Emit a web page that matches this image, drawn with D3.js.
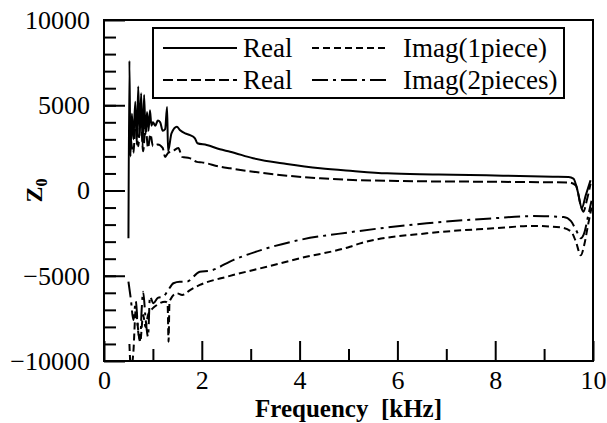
<!DOCTYPE html>
<html lang="en">
<head>
  <meta charset="UTF-8">
  <title>Z0 vs Frequency</title>
  <script src="https://d3js.org/d3.v7.min.js"></script>
  <style>
    body { margin: 0; background: #fff; }
    .axis .domain { display: none; }
    .axis line { stroke: #000; stroke-width: 2; }
    .curve { fill: none; stroke: #000; stroke-width: 2; }
  </style>
</head>
<body>
<div id="chart"></div>
<script>
// frequency [kHz] / Z0 values
const realOneF = [0.50, 0.52, 0.54, 0.57, 0.60, 0.64, 0.67, 0.70, 0.73, 0.76, 0.79, 0.82, 0.85, 0.88, 0.91, 0.94, 0.97, 1.00, 1.05, 1.10, 1.15, 1.20, 1.25, 1.29, 1.31, 1.38, 1.49, 1.55, 1.66, 1.76, 1.86, 1.91, 2.10, 2.37, 2.58, 3.05, 3.74, 4.42, 5.09, 5.79, 6.46, 7.14, 8.16, 9.18, 9.50, 9.60, 9.70, 9.77, 9.85, 9.95];
const realOneV = [-2800, 7600, 2000, 4500, 3000, 5200, 2700, 6100, 3200, 5700, 2600, 5600, 3300, 4600, 3500, 4700, 3800, 4000, 3800, 4100, 4000, 3500, 3600, 4900, 2300, 3350, 3740, 3550, 3350, 3250, 3060, 2770, 2670, 2416, 2277, 1888, 1554, 1300, 1144, 1008, 950, 930, 870, 810, 790, 700, -200, -1040, -300, 600];

const realTwoF = [0.55, 0.60, 0.65, 0.70, 0.75, 0.80, 0.85, 0.90, 0.95, 1.00, 1.10, 1.20, 1.25, 1.31, 1.40, 1.52, 1.60, 1.75, 1.90, 2.00, 2.37, 2.58, 3.05, 3.74, 4.42, 5.09, 5.79, 6.46, 7.14, 7.82, 8.50, 9.18, 9.50, 9.65, 9.75, 9.80, 9.88, 9.95];
const realTwoV = [3000, 2200, 4200, 2600, 4500, 2300, 3800, 2500, 3300, 2600, 2700, 2500, 1970, 2200, 2300, 2490, 1970, 1900, 1680, 1650, 1400, 1300, 1100, 870, 715, 616, 575, 540, 525, 516, 500, 480, 470, 300, -900, -1240, -500, 400];

const imagOneF = [0.52, 0.55, 0.60, 0.65, 0.70, 0.74, 0.80, 0.85, 0.90, 1.00, 1.08, 1.25, 1.30, 1.32, 1.34, 1.49, 1.60, 1.76, 1.96, 2.51, 2.64, 3.33, 4.00, 5.03, 5.24, 6.60, 7.96, 8.77, 9.33, 9.55, 9.65, 9.75, 9.82, 9.90, 9.97];
const imagOneV = [-9000, -10500, -9500, -7000, -8200, -8870, -7300, -8000, -7300, -6900, -6720, -6520, -6600, -8870, -6500, -6030, -6130, -5840, -5540, -5060, -4960, -4470, -3980, -3300, -3100, -2510, -2220, -2080, -2160, -2400, -3000, -3800, -3200, -2000, -1000];

const imagTwoF = [0.50, 0.55, 0.60, 0.65, 0.70, 0.74, 0.77, 0.80, 0.85, 0.90, 0.94, 1.01, 1.10, 1.21, 1.30, 1.42, 1.55, 1.69, 1.96, 2.17, 2.64, 3.33, 4.00, 5.03, 6.60, 7.96, 8.77, 9.00, 9.40, 9.55, 9.65, 9.75, 9.82, 9.90, 9.97];
const imagTwoV = [-5350, -6400, -7600, -6500, -8300, -8770, -7000, -5940, -7500, -8570, -6230, -6620, -6300, -6230, -5900, -5440, -5350, -5350, -4760, -4700, -4080, -3390, -2900, -2450, -1920, -1630, -1500, -1510, -1560, -1800, -2300, -2800, -2500, -1500, -600];

const seriesNames = ["Real", "Real", "Imag(1piece)", "Imag(2pieces)"];
const xTicks = [0, 2, 4, 6, 8, 10];
const xMinorTicks = [1, 3, 5, 7, 9];
const yTicks = [-10000, -5000, 0, 5000, 10000];
const yMinorTicks = d3.range(-9000, 10000, 1000);

const SERIF = '"Liberation Serif"';

const W = 607, H = 423;
const margin = {top: 20, right: 14, bottom: 62, left: 104};
const width = W - margin.left - margin.right,
      height = H - margin.top - margin.bottom;

const svg = d3.select("#chart").append("svg")
    .attr("width", W).attr("height", H)
  .append("g")
    .attr("transform", `translate(${margin.left},${margin.top})`);

const x = d3.scaleLinear().domain([0, 10]).range([0, width]);
const y = d3.scaleLinear().domain([-10000, 10000]).range([height, 0]);

svg.append("clipPath").attr("id", "clip")
  .append("rect").attr("width", width).attr("height", height);

// axes, ticks drawn inward
svg.append("g").attr("class", "axis")
  .call(d3.axisLeft(y).tickValues(yMinorTicks).tickSizeInner(-12).tickSizeOuter(0).tickFormat(""));
svg.append("g").attr("class", "axis")
  .call(d3.axisLeft(y).tickValues(yTicks).tickSizeInner(-21).tickSizeOuter(0).tickPadding(14).tickFormat(d3.format("d")));

svg.append("g").attr("class", "axis")
  .attr("transform", `translate(0,${height})`)
  .call(d3.axisBottom(x).tickValues(xMinorTicks).tickSizeInner(-12).tickSizeOuter(0).tickFormat(""));
svg.append("g").attr("class", "axis")
  .attr("transform", `translate(0,${height})`)
  .call(d3.axisBottom(x).tickValues(xTicks).tickSizeInner(-20).tickSizeOuter(0).tickPadding(10).tickFormat(d3.format("d")));

svg.selectAll(".axis text")
  .style("font-family", SERIF)
  .style("font-size", "26px")
  .style("fill", "#000");

// curves
const data = [
  {f: realOneF, v: realOneV, dash: null},
  {f: realTwoF, v: realTwoV, dash: "10,4"},
  {f: imagOneF, v: imagOneV, dash: "7,4"},
  {f: imagTwoF, v: imagTwoV, dash: "16,5,3,5"}
];

const line = d3.line()
  .x(d => x(d[0]))
  .y(d => y(d[1]))
  .curve(d3.curveMonotoneX);

svg.append("g").attr("clip-path", "url(#clip)")
  .selectAll("path")
  .data(data)
  .join("path")
    .attr("class", "curve")
    .attr("stroke-dasharray", d => d.dash)
    .attr("d", d => line(d.f.map((f, i) => [f, d.v[i]])));

// frame
svg.append("rect")
  .attr("width", width).attr("height", height)
  .attr("fill", "none").attr("stroke", "#000").attr("stroke-width", 2);

// legend
const legend = svg.append("g").attr("transform", "translate(49,8)");
legend.append("rect")
  .attr("width", 411).attr("height", 70)
  .attr("fill", "#fff").attr("stroke", "#000").attr("stroke-width", 2);

const legendPos = [
  {lx: 10, tx: 90, ly: 20},
  {lx: 10, tx: 90, ly: 52},
  {lx: 159, tx: 250, ly: 20},
  {lx: 159, tx: 250, ly: 52}
];
seriesNames.forEach((name, i) => {
  const p = legendPos[i];
  legend.append("line")
    .attr("x1", p.lx).attr("x2", p.lx + 74)
    .attr("y1", p.ly).attr("y2", p.ly)
    .attr("stroke", "#000").attr("stroke-width", 2)
    .attr("stroke-dasharray", data[i].dash);
  legend.append("text")
    .attr("x", p.tx).attr("y", p.ly + 9)
    .style("font-family", SERIF)
    .style("font-size", "27px")
    .text(name);
});

// axis titles
svg.append("text")
  .attr("x", width / 2).attr("y", height + 56)
  .attr("text-anchor", "middle")
  .style("font-family", SERIF)
  .style("font-size", "25px").style("font-weight", "bold")
  .style("white-space", "pre")
  .text("Frequency  [kHz]");

const yl = svg.append("text")
  .attr("transform", `translate(${-62},${y(0)}) rotate(-90)`)
  .attr("text-anchor", "middle")
  .style("font-family", SERIF)
  .style("font-size", "24px").style("font-weight", "bold");
yl.append("tspan").text("Z");
yl.append("tspan").attr("dy", 5).style("font-size", "16px").text("0");
</script>
</body>
</html>
